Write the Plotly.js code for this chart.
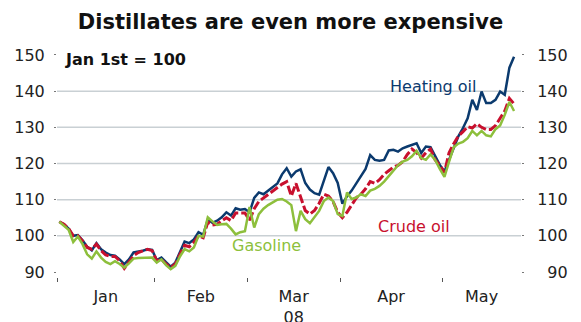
<!DOCTYPE html>
<html><head><meta charset="utf-8">
<script src="https://cdn.plot.ly/plotly-3.0.1.min.js"></script>
<style>html,body{margin:0;padding:0;background:#fff}#chart{width:581px;height:322px}</style>
</head><body><div id="chart"></div>
<script>
// Month labels and trading days per month (x axis is in trading days)
const months = ["Jan", "Feb", "Mar<br>08", "Apr", "May"];
const monthTradingDays = [21, 20, 20, 22, 16];

// Index, Jan 1st = 100 (daily closes)
const heatingOil = [
  103.9,103.2,102.0,100.0,100.2,98.8,97.0,96.0,98.0,96.3,
  95.4,94.7,94.5,93.5,92.2,93.5,95.4,95.6,95.9,96.3,
  96.1,93.3,94.0,92.7,91.5,92.6,95.5,98.4,98.0,99.0,
  101.0,100.3,104.5,103.6,104.2,105.1,106.5,105.6,107.6,107.2,
  107.4,106.5,110.5,112.0,111.5,112.5,113.5,114.5,117.0,118.7,
  116.4,117.8,118.4,114.6,112.8,111.8,111.4,115.5,119.0,117.3,
  114.6,108.9,110.9,112.5,114.5,116.5,118.5,122.3,121.0,120.8,
  121.0,123.6,123.8,123.3,124.2,124.7,125.2,125.6,122.9,124.7,
  124.5,122.1,119.6,117.8,121.0,124.7,127.5,129.8,132.5,137.6,
  134.8,139.9,136.7,136.7,137.6,139.9,139.0,146.5,149.5
];
const crudeOil = [
  103.9,103.2,102.0,100.0,100.0,98.6,96.8,96.3,97.7,95.9,
  94.7,94.3,94.3,93.1,91.0,92.6,94.5,95.4,95.9,96.3,
  95.9,93.1,93.5,92.2,91.2,92.2,94.9,97.4,97.0,98.2,
  100.0,99.5,103.8,103.0,103.2,104.0,105.0,104.2,106.3,106.3,
  106.3,104.3,107.5,109.5,110.5,111.5,112.5,113.5,114.3,115.0,
  111.0,114.5,111.0,107.0,106.0,107.0,109.0,111.5,111.0,109.5,
  106.5,105.0,106.5,108.5,110.5,111.5,113.0,115.0,114.5,115.5,
  117.0,118.0,119.0,119.5,120.5,122.5,124.0,123.0,121.5,123.0,
  124.0,121.0,119.5,117.5,123.0,125.5,127.6,128.8,130.2,129.8,
  131.0,130.0,129.4,129.4,130.5,132.5,134.5,138.0,136.5
];
const gasoline = [
  103.9,102.9,101.7,98.3,99.8,97.7,94.9,93.7,95.7,94.0,
  92.8,92.2,93.0,92.2,91.2,92.4,93.7,93.9,94.0,94.1,
  94.0,92.6,93.5,91.9,90.8,91.7,94.3,96.3,95.7,96.8,
  100.0,99.8,105.1,104.0,103.0,103.2,103.3,102.0,100.4,101.0,
  101.3,108.0,102.3,106.0,107.5,108.5,109.2,110.0,110.2,109.5,
  108.5,101.3,106.9,104.6,103.5,105.1,106.9,109.6,110.6,109.6,
  106.0,105.5,112.0,110.2,110.6,111.5,111.0,112.5,113.0,113.8,
  115.0,116.5,118.0,119.5,120.5,121.0,122.0,123.5,121.5,121.0,
  122.5,121.0,118.5,116.3,120.5,124.5,125.5,126.0,127.0,129.0,
  127.8,129.0,127.8,127.5,129.5,130.5,133.5,137.0,134.5
];
const yTicks = [90, 100, 110, 120, 130, 140, 150];
const gridVals = [100, 110, 120, 130, 140];

const idx = heatingOil.map((_, i) => i);
const xRange = [-0.5, 99.5];
const bounds = [-0.5];
monthTradingDays.forEach(d => bounds.push(bounds[bounds.length - 1] + d));
const tickBounds = bounds.slice(0, months.length);
const labelEnds = bounds.slice(1, months.length); labelEnds.push(xRange[1]);
const labelPos = tickBounds.map((b, i) => (b + labelEnds[i]) / 2);

const FONT = "DejaVu Sans";
const yRange = [88.62, 151.38];

const traces = [
  {x: idx, y: heatingOil, name: "Heating oil", mode: "lines", xaxis: "x", yaxis: "y",
   line: {color: "#0b3a6e", width: 2.5}},
  {x: idx, y: crudeOil, name: "Crude oil", mode: "lines", xaxis: "x", yaxis: "y",
   line: {color: "#c8102e", width: 3, dash: "9px,3px"}},
  {x: idx, y: gasoline, name: "Gasoline", mode: "lines", xaxis: "x2", yaxis: "y2",
   line: {color: "#8dbf3c", width: 2.5}}
];

const tickFont = {family: FONT, size: 16, color: "#222"};
const layout = {
  width: 581, height: 322,
  margin: {l: 57, r: 60, t: 50, b: 45},
  paper_bgcolor: "#fff", plot_bgcolor: "#fff",
  showlegend: false,
  title: {text: "Distillates are even more expensive", font: {family: FONT, size: 21, weight: "bold", color: "#111"},
          x: 0.5, xref: "container", xanchor: "center", y: 0.932, yref: "container", yanchor: "middle"},
  xaxis: {range: xRange, tickvals: tickBounds, ticktext: tickBounds.map(() => ""), ticks: "outside",
          ticklen: 4, tickcolor: "#555", tickwidth: 1, showgrid: false, zeroline: false, showline: false},
  xaxis2: {range: xRange, overlaying: "x", side: "bottom", anchor: "y", tickvals: labelPos, ticktext: months,
           ticks: "", showgrid: false, zeroline: false, showline: false, tickfont: tickFont, ticklabelstandoff: 8},
  yaxis: {range: yRange, tickvals: yTicks, ticktext: yTicks.map(String), ticks: "outside", ticklen: 2,
          tickcolor: "#777", showgrid: false, zeroline: false, showline: false, tickfont: tickFont, ticklabelstandoff: 6},
  yaxis2: {range: yRange, overlaying: "y", side: "right", anchor: "x", tickvals: yTicks,
           ticktext: yTicks.map(v => String(v).padStart(3, "\u2007")), ticks: "outside", ticklen: 2,
           tickcolor: "#777", showgrid: false, zeroline: false, showline: false, tickfont: tickFont, ticklabelstandoff: 10},
  shapes: gridVals.map(v => ({type: "line", xref: "paper", x0: 0, x1: 1, yref: "y", y0: v, y1: v,
                              line: {color: "#c9d0d4", width: 1.5}, layer: "below"})),
  annotations: [
    {text: "Jan 1st = 100", xref: "paper", yref: "paper", x: 0.013, y: 0.959, xanchor: "left", yanchor: "middle",
     showarrow: false, font: {family: FONT, size: 16, weight: "bold", color: "#111"}},
    {text: "Heating oil", xref: "paper", yref: "paper", x: 0.811, y: 0.840, xanchor: "center", yanchor: "middle",
     showarrow: false, font: {family: FONT, size: 16, color: "#0b3a6e"}},
    {text: "Crude oil", xref: "paper", yref: "paper", x: 0.769, y: 0.221, xanchor: "center", yanchor: "middle",
     showarrow: false, font: {family: FONT, size: 16, color: "#c8102e"}},
    {text: "Gasoline", xref: "paper", yref: "paper", x: 0.4515, y: 0.138, xanchor: "center", yanchor: "middle",
     showarrow: false, font: {family: FONT, size: 16, color: "#8dbf3c"}}
  ]
};

Plotly.newPlot("chart", traces, layout, {displayModeBar: false, staticPlot: true});
</script>
</body></html>
